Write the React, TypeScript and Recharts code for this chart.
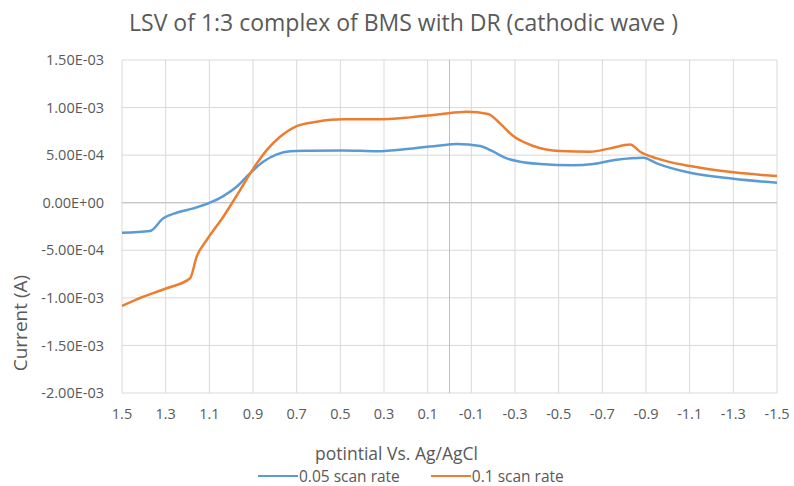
import React from 'react';
import {
  LineChart, Line, XAxis, YAxis, CartesianGrid, ReferenceLine, Legend, Label
} from 'recharts';

// ── data ────────────────────────────────────────────────────
const slowV = [1.5, 1.372, 1.311, 1.25, 1.173, 1.097, 1.036, 0.975, 0.914, 0.853, 0.791, 0.73, 0.639, 0.486, 0.333, 0.181, 0.043, -0.033, -0.14, -0.201, -0.262, -0.323, -0.415, -0.567, -0.659, -0.766, -0.888, -0.949, -1.102, -1.3, -1.5];
const slowI = [-3.15e-4, -2.97e-4, -1.64e-4, -1.05e-4, -5.9e-5, 0, 7e-5, 1.68e-4, 3.09e-4, 4.3e-4, 5.08e-4, 5.4e-4, 5.46e-4, 5.5e-4, 5.4e-4, 5.67e-4, 6.02e-4, 6.17e-4, 5.96e-4, 5.36e-4, 4.66e-4, 4.31e-4, 4.07e-4, 3.93e-4, 4.07e-4, 4.52e-4, 4.73e-4, 4.14e-4, 3.15e-4, 2.52e-4, 2.1e-4];

const fastV = [1.5, 1.402, 1.295, 1.188, 1.158, 1.112, 1.036, 0.959, 0.898, 0.837, 0.776, 0.7, 0.608, 0.486, 0.333, 0.181, 0.043, -0.079, -0.177, -0.231, -0.292, -0.384, -0.506, -0.644, -0.735, -0.827, -0.873, -0.949, -1.102, -1.3, -1.5];
const fastI = [-1.085e-3, -9.87e-4, -8.99e-4, -7.94e-4, -5.67e-4, -3.92e-4, -1.47e-4, 1.33e-4, 3.61e-4, 5.53e-4, 6.93e-4, 8.06e-4, 8.51e-4, 8.76e-4, 8.76e-4, 8.97e-4, 9.3e-4, 9.56e-4, 9.32e-4, 8.34e-4, 7.0e-4, 5.96e-4, 5.43e-4, 5.36e-4, 5.71e-4, 6.13e-4, 5.36e-4, 4.66e-4, 3.85e-4, 3.19e-4, 2.8e-4];

const xTicks = [1.5, 1.3, 1.1, 0.9, 0.7, 0.5, 0.3, 0.1, -0.1, -0.3, -0.5, -0.7, -0.9, -1.1, -1.3, -1.5];
const yTicks = [-2e-3, -1.5e-3, -1e-3, -5e-4, 0, 5e-4, 1e-3, 1.5e-3];

const seriesNames = ['0.05 scan rate', '0.1 scan rate'];
const seriesColors = ['#5B9BD5', '#ED7D31'];

const slowData = slowV.map((v, i) => ({ v, i: slowI[i] }));
const fastData = fastV.map((v, i) => ({ v, i: fastI[i] }));

const FONT = '"Open Sans", sans-serif';
const TEXT = '#595959';

// Excel-style scientific label: 1.50E-03
const sci = (v: number) => {
  const [m, e] = v.toExponential(2).split('e');
  const sign = e[0] === '-' ? '-' : '+';
  const digits = e.replace(/^[+-]/, '').padStart(2, '0');
  return `${m}E${sign}${digits}`;
};

const LegendContent = () => (
  <div style={{ display: 'flex', alignItems: 'center', fontFamily: FONT, fontSize: 15.5, lineHeight: '18px', color: TEXT }}>
    {seriesNames.map((n, k) => (
      <div key={n} style={{ display: 'flex', alignItems: 'center', marginRight: k === 0 ? 31 : 0 }}>
        <span style={{ display: 'inline-block', width: 40, height: 0, borderTop: `2.5px solid ${seriesColors[k]}` }} />
        <span style={{ marginLeft: 1 }}>{n}</span>
      </div>
    ))}
  </div>
);

export default function App() {
  return (
    <div style={{ position: 'absolute', left: 0, top: 0, width: 794, height: 486, background: '#fff', fontFamily: FONT }}>
      <div style={{
        position: 'absolute', left: 0, width: 794, top: 6, textAlign: 'center',
        fontSize: 23, color: TEXT, paddingLeft: 13, boxSizing: 'border-box'
      }}>
        LSV of 1:3 complex of BMS with DR (cathodic wave )
      </div>
      <LineChart width={794} height={486} margin={{ top: 60, right: 17, bottom: 0, left: 0 }}>
        <CartesianGrid stroke="#d9d9d9" strokeWidth={1} />
        <XAxis
          type="number" dataKey="v" domain={[-1.5, 1.5]} reversed ticks={xTicks}
          allowDataOverflow interval={0} height={93}
          tick={{ fontSize: 14.5, fill: TEXT, fontFamily: FONT }}
          tickFormatter={(v) => String(v)}
          tickLine={false} axisLine={false} tickMargin={10}
        >
          <Label
            content={({ viewBox }: any) => (
              <text x={viewBox.x + viewBox.width / 2 - 53} y={viewBox.y + 67}
                textAnchor="middle" fontSize={17.5} fill={TEXT} fontFamily={FONT}>
                potintial Vs. Ag/AgCl
              </text>
            )}
          />
        </XAxis>
        <YAxis
          type="number" domain={[-2e-3, 1.5e-3]} ticks={yTicks} width={122}
          tick={{ fontSize: 14.5, fill: TEXT, fontFamily: FONT }}
          tickFormatter={sci} tickLine={false} axisLine={false} tickMargin={12}
        >
          <Label
            content={({ viewBox }: any) => {
              const x = viewBox.x + 20;
              const y = viewBox.y + viewBox.height * 0.79;
              return (
                <text x={x} y={y} transform={`rotate(-90, ${x}, ${y})`} textAnchor="middle"
                  dominantBaseline="central" fontSize={19} fill={TEXT} fontFamily={FONT}>
                  Current (A)
                </text>
              );
            }}
          />
        </YAxis>
        <ReferenceLine x={0} stroke="#bfbfbf" strokeWidth={1} />
        <ReferenceLine y={0} stroke="#bfbfbf" strokeWidth={1} />
        <Line data={slowData} dataKey="i" name={seriesNames[0]} type="monotone"
          stroke={seriesColors[0]} strokeWidth={2.5} dot={false} isAnimationActive={false} />
        <Line data={fastData} dataKey="i" name={seriesNames[1]} type="monotone"
          stroke={seriesColors[1]} strokeWidth={2.5} dot={false} isAnimationActive={false} />
        <Legend
          layout="horizontal" verticalAlign="middle" align="center"
          content={<LegendContent />}
          wrapperStyle={{ left: 258, top: 467, width: 320, height: 18 }}
        />
      </LineChart>
    </div>
  );
}
